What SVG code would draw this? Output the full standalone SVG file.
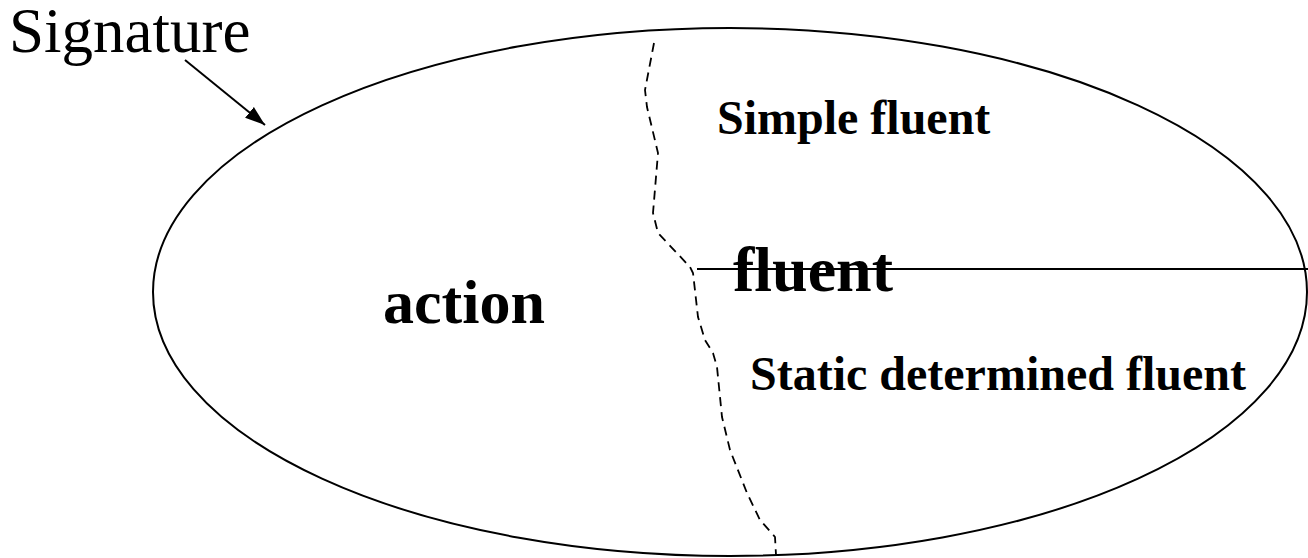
<svg xmlns="http://www.w3.org/2000/svg" width="1308" height="558" viewBox="0 0 1308 558">
<style>
.outline{fill:none;stroke:#000;stroke-width:2}
.dash{fill:none;stroke:#000;stroke-width:1.8;stroke-dasharray:9 6}
.reg{font-family:"Liberation Serif","Times New Roman",serif;fill:#000}
.bold{font-family:"Liberation Serif","Times New Roman",serif;font-weight:bold;fill:#000}
</style>
<defs>
<marker id="arrowBig" viewBox="0 0 20 14" refX="20" refY="7" markerWidth="20" markerHeight="14" markerUnits="userSpaceOnUse" orient="auto">
<path d="M0,0 L20,7 L0,14 z" fill="#000"/>
</marker>
</defs>
<rect width="1308" height="558" fill="#fff"/>
<g id="signature-set">
<ellipse class="outline" cx="730" cy="292" rx="577" ry="264"/>
</g>
<g id="signature-label">
<text class="reg" x="9" y="52" font-size="63">Signature</text>
</g>
<g id="action">
<text class="bold" x="383" y="323" font-size="62">action</text>
</g>
<g id="fluent">
<text class="bold" x="733" y="291" font-size="64">fluent</text>
</g>
<g id="simple-fluent">
<text class="bold" x="717" y="134" font-size="48">Simple fluent</text>
</g>
<g id="static-fluent">
<text class="bold" x="750" y="390" font-size="48">Static determined fluent</text>
</g>
<g id="connectors">
<line x1="185" y1="60" x2="265" y2="125" stroke="#000" stroke-width="2" marker-end="url(#arrowBig)"/>
<line x1="697" y1="269" x2="1308" y2="269" stroke="#000" stroke-width="2"/>
<path class="dash" d="M654,43 L645,90 L647,107 L658,153 L653,213 L658,233 L690,267 L693,273 L698,317 L705,340 L713,353 L717,367 L722,417 L730,450 L747,493 L760,520 L775,537 L776,555"/>
</g>
</svg>
